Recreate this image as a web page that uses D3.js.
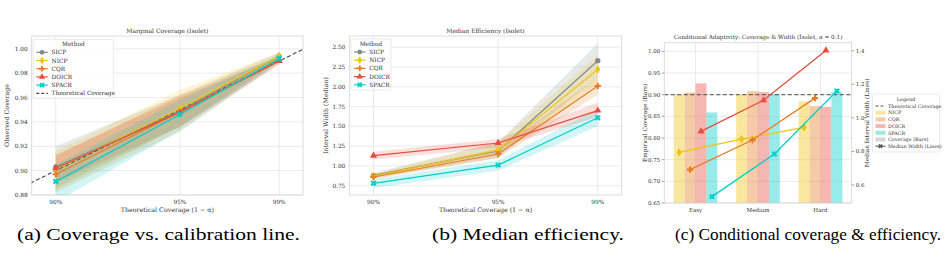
<!DOCTYPE html>
<html>
<head>
<meta charset="utf-8">
<script src="https://cdn.jsdelivr.net/npm/d3@7"></script>
<style>
  body { margin: 0; background: #fff; }
  svg { display: block; }
  text { font-family: "DejaVu Serif", serif; fill: #333; }
  .cap { font-family: "Liberation Serif", "Times New Roman", serif; fill: #000; }
</style>
</head>
<body>
<svg id="chart" width="945" height="253"></svg>
<script>
// ---- data ----
const methods = ["SICP", "NICP", "CQR", "DOICR", "SPACR"];
const colors = ["#7f8c8d", "#f1c40f", "#e67e22", "#e74c3c", "#00cec9"];
const levels = [0.90, 0.95, 0.99];
const levelLabels = ["90%", "95%", "99%"];

// (a) observed coverage, mean and band
const covMean = [[0.903, 0.949, 0.994], [0.901, 0.951, 0.994], [0.897, 0.948, 0.991], [0.902, 0.948, 0.990], [0.891, 0.946, 0.992]];
const covLo = [[0.886, 0.936, 0.990], [0.884, 0.936, 0.990], [0.882, 0.932, 0.988], [0.890, 0.936, 0.987], [0.874, 0.933, 0.989]];
const covHi = [[0.920, 0.962, 0.997], [0.916, 0.966, 0.997], [0.912, 0.962, 0.994], [0.913, 0.960, 0.993], [0.905, 0.958, 0.995]];

// (b) median interval width, median and band
const widMed = [[0.88, 1.19, 2.33], [0.87, 1.20, 2.22], [0.86, 1.15, 2.01], [1.13, 1.29, 1.70], [0.78, 1.01, 1.61]];
const widLo = [[0.85, 1.10, 2.12], [0.84, 1.13, 2.05], [0.83, 1.10, 1.90], [1.08, 1.23, 1.62], [0.72, 0.94, 1.50]];
const widHi = [[0.91, 1.30, 2.55], [0.90, 1.30, 2.40], [0.89, 1.22, 2.12], [1.18, 1.34, 1.80], [0.83, 1.07, 1.72]];

// (c) conditional coverage (bars) and width (lines)
const groups = ["Easy", "Medium", "Hard"];
const condMethods = ["NICP", "CQR", "DOICR", "SPACR"];
const condCov = [[0.900, 0.901, 0.885], [0.905, 0.908, 0.874], [0.926, 0.906, 0.872], [0.859, 0.902, 0.907]];
const condWid = [[0.795, 0.873, 0.944], [0.692, 0.868, 1.118], [0.920, 1.105, 1.402], [0.531, 0.785, 1.160]];

const covTicks = [0.88, 0.90, 0.92, 0.94, 0.96, 0.98, 1.00];
const widTicks = [0.75, 1.00, 1.25, 1.50, 1.75, 2.00, 2.25, 2.50];
const condCovTicks = [0.65, 0.70, 0.75, 0.80, 0.85, 0.90, 0.95, 1.00];
const condWidTicks = [0.6, 0.8, 1.0, 1.2, 1.4];

const svg = d3.select("#chart");
const gridColor = "#e6e6e6";
const frameColor = "#d4d4d4";

const markerShape = {
  SICP: d3.symbolCircle, NICP: d3.symbolDiamond, CQR: d3.symbolCross,
  DOICR: d3.symbolTriangle, SPACR: d3.symbolCross
};
function marker(g, name, x, y, color, size) {
  g.append("path")
    .attr("d", d3.symbol(markerShape[name], size || 22)())
    .attr("transform", `translate(${x},${y})` + (name === "SPACR" ? " rotate(45)" : ""))
    .attr("fill", color);
}

function frame(g, x0, x1, y0, y1, id) {
  g.append("clipPath").attr("id", id).append("rect")
    .attr("x", x0).attr("y", y0).attr("width", x1 - x0).attr("height", y1 - y0);
}

// ---------- panel (a) and (b): line + band charts ----------
function linePanel(opts) {
  const {x0, x1, y0, y1, yDomain, yTicks, yFmt, mean, lo, hi, title, ylabel, id, legend, diag} = opts;
  const g = svg.append("g");
  const x = d3.scaleLinear().domain([0.8903, 0.9996]).range([x0, x1]);
  const y = d3.scaleLinear().domain(yDomain).range([y1, y0]);
  frame(g, x0, x1, y0, y1, id);

  // grid
  g.selectAll(".hg").data(yTicks).enter().append("line")
    .attr("x1", x0).attr("x2", x1).attr("y1", d => y(d)).attr("y2", d => y(d))
    .attr("stroke", gridColor).attr("stroke-width", 0.8);
  g.selectAll(".vg").data(levels).enter().append("line")
    .attr("y1", y0).attr("y2", y1).attr("x1", d => x(d)).attr("x2", d => x(d))
    .attr("stroke", gridColor).attr("stroke-width", 0.8);
  g.append("rect").attr("x", x0).attr("y", y0).attr("width", x1 - x0).attr("height", y1 - y0)
    .attr("fill", "none").attr("stroke", frameColor).attr("stroke-width", 0.8);

  const plot = g.append("g").attr("clip-path", `url(#${id})`);
  const area = d3.area().x((d, i) => x(levels[i])).y0(d => y(d[0])).y1(d => y(d[1]));
  const line = d3.line().x((d, i) => x(levels[i])).y(d => y(d));

  methods.forEach((m, k) => {
    plot.append("path")
      .attr("d", area(levels.map((_, i) => [lo[k][i], hi[k][i]])))
      .attr("fill", colors[k]).attr("fill-opacity", 0.18);
  });
  if (diag) {
    plot.append("line")
      .attr("x1", x(0.885)).attr("y1", y(0.885)).attr("x2", x(1.005)).attr("y2", y(1.005))
      .attr("stroke", "#444").attr("stroke-width", 1.1).attr("stroke-dasharray", "4,2.5");
  }
  methods.forEach((m, k) => {
    plot.append("path").attr("d", line(mean[k]))
      .attr("fill", "none").attr("stroke", colors[k]).attr("stroke-width", 1.2);
    mean[k].forEach((v, i) => marker(plot, m, x(levels[i]), y(v), colors[k]));
  });

  // ticks
  g.selectAll(".yt").data(yTicks).enter().append("text")
    .attr("x", x0 - 4).attr("y", d => y(d)).attr("dy", "0.35em")
    .attr("text-anchor", "end").style("font-size", "5.8px").text(d => d3.format(yFmt)(d));
  g.selectAll(".xt").data(levels).enter().append("text")
    .attr("x", d => x(d)).attr("y", y1 + 9).attr("text-anchor", "middle")
    .style("font-size", "5.8px").text((d, i) => levelLabels[i]);

  g.append("text").attr("x", (x0 + x1) / 2).attr("y", y0 - 3).attr("text-anchor", "middle")
    .style("font-size", "6px").text(title);
  g.append("text").attr("x", (x0 + x1) / 2).attr("y", y1 + 17).attr("text-anchor", "middle")
    .style("font-size", "6.3px").text("Theoretical Coverage (1 \u2212 \u03b1)");
  g.append("text").attr("transform", `translate(${opts.ylx},${(y0 + y1) / 2}) rotate(-90)`)
    .attr("text-anchor", "middle").style("font-size", "6.3px").text(ylabel);

  // legend
  const L = legend;
  const lg = g.append("g");
  lg.append("rect").attr("x", L.x).attr("y", L.y).attr("width", L.w).attr("height", L.h)
    .attr("fill", "#fff").attr("fill-opacity", 0.85).attr("stroke", "#dcdcdc").attr("stroke-width", 0.6).attr("rx", 1.5);
  lg.append("text").attr("x", L.x + L.w / 2).attr("y", L.y + 6.6).attr("text-anchor", "middle")
    .style("font-size", "5.8px").text("Method");
  const entries = methods.map((m, k) => ({name: m, color: colors[k]}));
  if (diag) entries.push({name: "Theoretical Coverage", color: "#444", dash: true});
  entries.forEach((e, i) => {
    const yy = L.y + 13 + i * 8.2;
    lg.append("line").attr("x1", L.x + 3).attr("x2", L.x + 14.5).attr("y1", yy).attr("y2", yy)
      .attr("stroke", e.color).attr("stroke-width", 1.2).attr("stroke-dasharray", e.dash ? "3,2" : null);
    if (!e.dash) marker(lg, e.name, L.x + 8.75, yy, e.color, 18);
    lg.append("text").attr("x", L.x + 18.3).attr("y", yy).attr("dy", "0.35em")
      .style("font-size", "5.8px").text(e.name);
  });
}

linePanel({
  x0: 31.7, x1: 303, y0: 36, y1: 195, yDomain: [0.88, 1.0105], yTicks: covTicks, yFmt: ".2f",
  mean: covMean, lo: covLo, hi: covHi, id: "clipA", diag: true,
  title: "Marginal Coverage (Isolet)", ylabel: "Observed Coverage", ylx: 9,
  legend: {x: 33.3, y: 39.3, w: 80, h: 59}
});

linePanel({
  x0: 349.3, x1: 621.7, y0: 36, y1: 195, yDomain: [0.632, 2.643], yTicks: widTicks, yFmt: ".2f",
  mean: widMed, lo: widLo, hi: widHi, id: "clipB", diag: false,
  title: "Median Efficiency (Isolet)", ylabel: "Interval Width (Median)", ylx: 327.5,
  legend: {x: 351, y: 39, w: 40, h: 51}
});

// ---------- panel (c): bars + lines on twin axes ----------
(function () {
  const x0 = 664.3, x1 = 851.7, y0 = 42.7, y1 = 203;
  const g = svg.append("g");
  const x = d3.scaleBand().domain(groups).range([x0, x1]).padding(0);
  const xb = d3.scaleBand().domain(condMethods).range([0, x.bandwidth() * 0.7]);
  const yL = d3.scaleLinear().domain([0.65, 1.02]).range([y1, y0]);
  const yR = d3.scaleLinear().domain([0.493, 1.448]).range([y1, y0]);
  const off = x.bandwidth() * 0.15;
  frame(g, x0, x1, y0, y1, "clipC");

  g.selectAll(".hg").data(condCovTicks).enter().append("line")
    .attr("x1", x0).attr("x2", x1).attr("y1", d => yL(d)).attr("y2", d => yL(d))
    .attr("stroke", gridColor).attr("stroke-width", 0.8);
  g.selectAll(".vg").data(groups).enter().append("line")
    .attr("y1", y0).attr("y2", y1).attr("x1", d => x(d) + x.bandwidth() / 2).attr("x2", d => x(d) + x.bandwidth() / 2)
    .attr("stroke", gridColor).attr("stroke-width", 0.8);

  const plot = g.append("g").attr("clip-path", "url(#clipC)");
  condMethods.forEach((m, k) => {
    const col = colors[methods.indexOf(m)];
    plot.selectAll(null).data(groups).enter().append("rect")
      .attr("x", (d) => x(d) + off + xb(m)).attr("width", xb.bandwidth())
      .attr("y", (d, i) => yL(condCov[k][i])).attr("height", (d, i) => y1 - yL(condCov[k][i]))
      .attr("fill", col).attr("fill-opacity", 0.4);
  });
  plot.append("line").attr("x1", x0).attr("x2", x1).attr("y1", yL(0.9)).attr("y2", yL(0.9))
    .attr("stroke", "#555").attr("stroke-width", 1.3).attr("stroke-dasharray", "4,2.5").attr("stroke-opacity", 0.85);

  const ln = d3.line().x(d => d[0]).y(d => yR(d[1]));
  condMethods.forEach((m, k) => {
    const col = colors[methods.indexOf(m)];
    const pts = groups.map((gname, i) => [x(gname) + off + xb(m) + xb.bandwidth() / 2, condWid[k][i]]);
    plot.append("path").attr("d", ln(pts)).attr("fill", "none").attr("stroke", col).attr("stroke-width", 1.3);
    pts.forEach(p => marker(plot, m, p[0], yR(p[1]), col, 22));
  });

  g.append("rect").attr("x", x0).attr("y", y0).attr("width", x1 - x0).attr("height", y1 - y0)
    .attr("fill", "none").attr("stroke", frameColor).attr("stroke-width", 0.8);

  // left ticks
  condCovTicks.forEach(t => {
    g.append("line").attr("x1", x0 - 2.5).attr("x2", x0).attr("y1", yL(t)).attr("y2", yL(t)).attr("stroke", "#666").attr("stroke-width", 0.6);
  });
  g.selectAll(".ylt").data(condCovTicks).enter().append("text")
    .attr("x", x0 - 4).attr("y", d => yL(d)).attr("dy", "0.35em").attr("text-anchor", "end")
    .style("font-size", "5.5px").text(d => d3.format(".2f")(d));
  // right ticks
  condWidTicks.forEach(t => {
    g.append("line").attr("x1", x1).attr("x2", x1 + 2.5).attr("y1", yR(t)).attr("y2", yR(t)).attr("stroke", "#666").attr("stroke-width", 0.6);
  });
  g.selectAll(".yrt").data(condWidTicks).enter().append("text")
    .attr("x", x1 + 4).attr("y", d => yR(d)).attr("dy", "0.35em")
    .style("font-size", "5.5px").text(d => d3.format(".1f")(d));
  g.selectAll(".xt").data(groups).enter().append("text")
    .attr("x", d => x(d) + x.bandwidth() / 2).attr("y", y1 + 9).attr("text-anchor", "middle")
    .style("font-size", "5.5px").text(d => d);

  g.append("text").attr("x", (x0 + x1) / 2).attr("y", y0 - 3.5).attr("text-anchor", "middle")
    .style("font-size", "5.7px").text("Conditional Adaptivity: Coverage & Width (Isolet, \u03b1 = 0.1)");
  g.append("text").attr("transform", `translate(647,${(y0 + y1) / 2}) rotate(-90)`)
    .attr("text-anchor", "middle").style("font-size", "5.8px").text("Empirical Coverage (Bars)");
  g.append("text").attr("transform", `translate(869,${(y0 + y1) / 2}) rotate(-90)`)
    .attr("text-anchor", "middle").style("font-size", "5.8px").text("Median Interval Width (Lines)");

  // legend
  const L = {x: 872.5, y: 94, w: 67, h: 58};
  const lg = g.append("g");
  lg.append("rect").attr("x", L.x).attr("y", L.y).attr("width", L.w).attr("height", L.h)
    .attr("fill", "#fff").attr("stroke", "#dcdcdc").attr("stroke-width", 0.6).attr("rx", 1.5);
  lg.append("text").attr("x", L.x + L.w / 2).attr("y", L.y + 5).attr("dy", "0.35em").attr("text-anchor", "middle")
    .style("font-size", "4.9px").text("Legend");
  const entries = [{name: "Theoretical Coverage", type: "dash", color: "#555"}]
    .concat(condMethods.map(m => ({name: m, type: "patch", color: colors[methods.indexOf(m)]})))
    .concat([{name: "Coverage (Bars)", type: "patch", color: "#999"},
             {name: "Median Width (Lines)", type: "mline", color: "#555"}]);
  entries.forEach((e, i) => {
    const yy = L.y + 12 + i * 6.7;
    if (e.type === "patch") {
      lg.append("rect").attr("x", L.x + 3).attr("y", yy - 2).attr("width", 10).attr("height", 4)
        .attr("fill", e.color).attr("fill-opacity", 0.4);
    } else {
      lg.append("line").attr("x1", L.x + 3).attr("x2", L.x + 13).attr("y1", yy).attr("y2", yy)
        .attr("stroke", e.color).attr("stroke-width", 1.1).attr("stroke-dasharray", e.type === "dash" ? "3,2" : null);
      if (e.type === "mline") marker(lg, "SPACR", L.x + 8, yy, e.color, 12);
    }
    lg.append("text").attr("x", L.x + 15.5).attr("y", yy).attr("dy", "0.35em")
      .style("font-size", "4.9px").text(e.name);
  });
})();

// ---------- captions ----------
const captions = [
  {t: "(a) Coverage vs. calibration line.", cx: 158.5, w: 283},
  {t: "(b) Median efficiency.", cx: 528, w: 192},
  {t: "(c) Conditional coverage & efficiency.", cx: 808, w: 266}
];
captions.forEach(c => {
  svg.append("text").attr("class", "cap").attr("x", c.cx - c.w / 2).attr("y", 240)
    .attr("textLength", c.w).attr("lengthAdjust", "spacingAndGlyphs")
    .style("font-size", "16.5px").text(c.t);
});
</script>
</body>
</html>
